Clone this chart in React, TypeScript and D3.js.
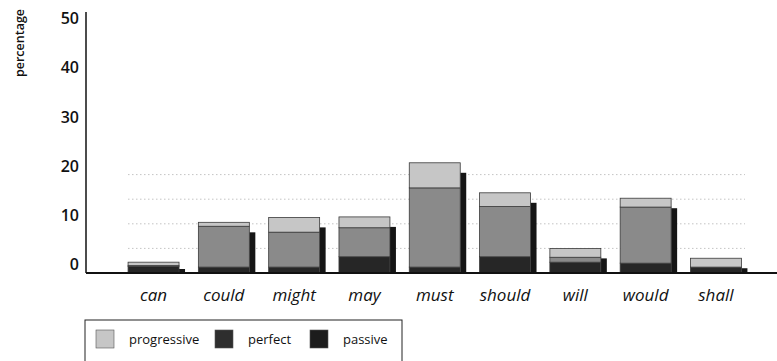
import React from "react";
import * as d3 from "d3";

const modals = ["can", "could", "might", "may", "must", "should", "will", "would", "shall"];
const passive = [1.3, 1.2, 1.2, 3.3, 1.2, 3.3, 2.2, 2.0, 1.2];
const perfect = [0.2, 8.3, 7.1, 5.9, 16.1, 10.2, 1.0, 11.4, 0.0];
const progressive = [0.7, 0.8, 3.0, 2.2, 5.1, 2.8, 1.8, 1.8, 1.8];
const yTicks = [0, 10, 20, 30, 40, 50];
const gridValues = [5, 10, 15, 20];

const seriesKeys = ["passive", "perfect", "progressive"];
const seriesColor: Record<string, string> = {
	passive: "#262626",
	perfect: "#8a8a8a",
	progressive: "#c6c6c6",
};
const legendItems = [
	{ key: "progressive", fill: "#c6c6c6", x: 96 },
	{ key: "perfect", fill: "#2e2e2e", x: 215 },
	{ key: "passive", fill: "#1c1c1c", x: 310 },
];

const W = 777;
const H = 361;
const font = "'Open Sans', 'DejaVu Sans', sans-serif";

export default function App() {
	const rows = modals.map((m, i) => ({
		modal: m,
		passive: passive[i],
		perfect: perfect[i],
		progressive: progressive[i],
	}));
	const stacked = d3.stack<any>().keys(seriesKeys)(rows);

	const x = d3.scaleBand().domain(modals).range([118.4, 751.1]).paddingInner(0.275).paddingOuter(0.1375);
	const y = d3.scaleLinear().domain([0, 50]).range([273, 27]);
	const bw = x.bandwidth();
	const totals = rows.map((r) => r.passive + r.perfect + r.progressive);

	return (
		<svg width={W} height={H} style={{ position: "absolute", left: 0, top: 0, background: "#fff" }}>
			{/* dotted grid */}
			<g stroke="#c4c4c4" strokeWidth={1} strokeDasharray="1.5 2.5">
				{gridValues.map((v) => (
					<line key={v} x1={128} x2={745} y1={y(v)} y2={y(v)} />
				))}
			</g>

			{/* shadows */}
			<g fill="#151515">
				{modals.map((m, i) => {
					const top = Math.min(y(totals[i]) + 10, y(0) - 4);
					return <rect key={m} x={x(m)! + bw} y={top} width={6} height={y(0) - top} />;
				})}
			</g>

			{/* stacked bars */}
			{stacked.map((s) => (
				<g key={s.key} fill={seriesColor[s.key]} stroke="#3a3a3a" strokeWidth={0.8}>
					{s.map((d) =>
						d[1] - d[0] > 0 ? (
							<rect key={d.data.modal} x={x(d.data.modal)} y={y(d[1])} width={bw} height={y(d[0]) - y(d[1])} />
						) : null,
					)}
				</g>
			))}

			{/* axes */}
			<line x1={86} x2={86} y1={12} y2={273} stroke="#111" strokeWidth={1.5} />
			<line x1={86} x2={777} y1={273} y2={273} stroke="#111" strokeWidth={2} />
			<g fontFamily={font} fontWeight={600} fontSize={16} fill="#111" textAnchor="end">
				{yTicks.map((t) => (
					<text key={t} x={79} y={y(t) - 7} dominantBaseline="middle">
						{t}
					</text>
				))}
			</g>
			<text
				transform="translate(24,43) rotate(-90)"
				textAnchor="middle"
				fontFamily={font}
				fontWeight={600}
				fontSize={12.5}
				fill="#111"
			>
				percentage
			</text>
			<g fontFamily={font} fontStyle="italic" fontWeight={500} fontSize={17} fill="#111" textAnchor="middle">
				{modals.map((m) => (
					<text key={m} x={x(m)! + bw / 2} y={301}>
						{m}
					</text>
				))}
			</g>

			{/* legend */}
			<rect x={85} y={320} width={317} height={60} fill="none" stroke="#222" strokeWidth={1} />
			{legendItems.map((l) => (
				<g key={l.key}>
					<rect x={l.x} y={330} width={18} height={18} fill={l.fill} stroke="#555" strokeWidth={0.6} />
					<text x={l.x + 33} y={343.5} fontFamily={font} fontSize={13} fill="#111">
						{l.key}
					</text>
				</g>
			))}
		</svg>
	);
}
